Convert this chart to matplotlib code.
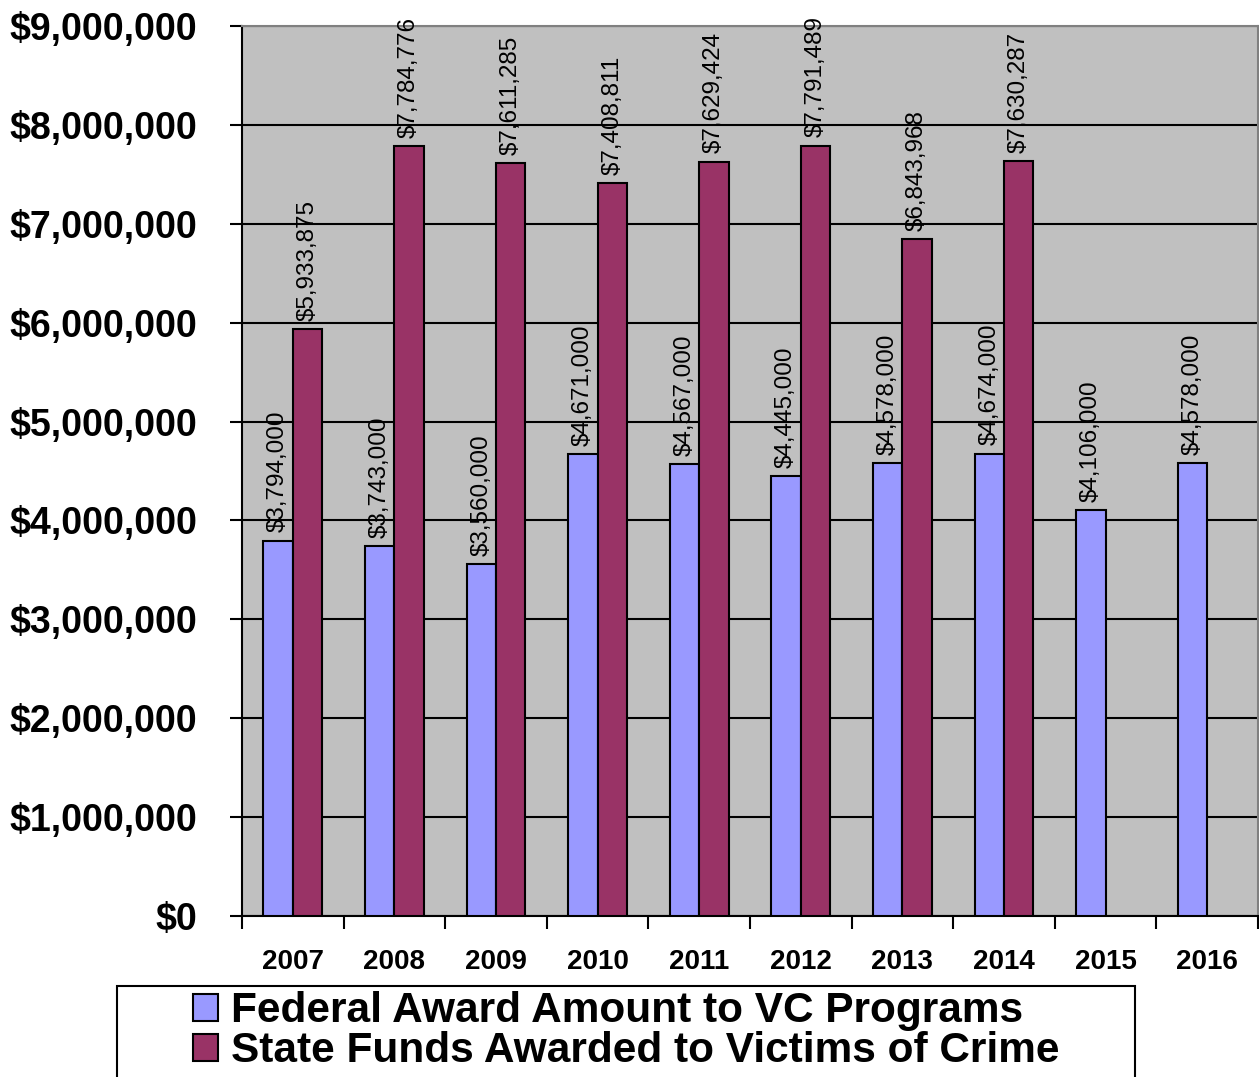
import numpy as np
import matplotlib.pyplot as plt
from matplotlib.patches import Rectangle
from matplotlib.ticker import FuncFormatter, FixedLocator

plt.rcParams['font.family'] = ['Liberation Sans', 'DejaVu Sans']

# Data
years = ["2007", "2008", "2009", "2010", "2011", "2012", "2013", "2014", "2015", "2016"]
federal = [3794000, 3743000, 3560000, 4671000, 4567000, 4445000, 4578000, 4674000, 4106000, 4578000]
state = [5933875, 7784776, 7611285, 7408811, 7629424, 7791489, 6843968, 7630287, None, None]
series_names = ["Federal Award Amount to VC Programs", "State Funds Awarded to Victims of Crime"]

fed_color = "#9999FF"
state_color = "#993366"

fig = plt.figure(figsize=(12.59, 10.77), dpi=100)
ax = fig.add_axes([242 / 1259, 1 - 916 / 1077, (1258 - 242) / 1259, (916 - 26) / 1077])
ax.set_facecolor("#C0C0C0")

x = np.arange(len(years))
w = 0.29

state_vals = np.array([np.nan if v is None else v for v in state], dtype=float)

b1 = ax.bar(x - w / 2, federal, w, color=fed_color, edgecolor="black", linewidth=1.5,
            zorder=3, label=series_names[0])
b2 = ax.bar(x + w / 2, np.nan_to_num(state_vals), w, color=state_color, edgecolor="black",
            linewidth=1.5, zorder=3, label=series_names[1])
for i, v in enumerate(state):
    if v is None:
        b2[i].set_visible(False)

# value labels
for xi, v in zip(x - w / 2, federal):
    ax.annotate("${:,}".format(v), (xi, v), xytext=(0, 6), textcoords="offset points",
                rotation=90, ha="center", va="bottom", fontsize=17.5, zorder=4)
for xi, v in zip(x + w / 2, state):
    if v is None:
        continue
    ax.annotate("${:,}".format(v), (xi, v), xytext=(0, 6), textcoords="offset points",
                rotation=90, ha="center", va="bottom", fontsize=17.5, zorder=4)

ax.set_ylim(0, 9000000)
ax.set_xlim(-0.5, len(years) - 0.5)
ax.set_yticks(np.arange(0, 9000001, 1000000))
ax.yaxis.set_major_formatter(FuncFormatter(lambda v, p: "${:,.0f}".format(v)))
ax.grid(axis="y", color="black", linewidth=1.5, zorder=1)
ax.set_axisbelow(True)

ax.set_xticks(x)
ax.set_xticklabels(years)
ax.xaxis.set_minor_locator(FixedLocator(np.arange(-0.5, len(years), 1.0)))
ax.tick_params(axis="x", which="major", length=0, pad=24, labelsize=20)
ax.tick_params(axis="x", which="minor", length=9, width=1.5, direction="out")
ax.tick_params(axis="y", length=9, width=1.5, pad=23, labelsize=27)
for lab in ax.get_xticklabels() + ax.get_yticklabels():
    lab.set_fontweight("bold")

ax.spines["left"].set_linewidth(1.5)
ax.spines["bottom"].set_linewidth(1.5)
ax.spines["top"].set_color("#808080")
ax.spines["top"].set_linewidth(1.5)
ax.spines["right"].set_color("#808080")
ax.spines["right"].set_linewidth(1.5)

# legend box (runs off the bottom of the figure)
fig.patches.append(Rectangle((117 / 1259, -0.05), (1135 - 117) / 1259, 1 - 986 / 1077 + 0.05,
                             transform=fig.transFigure, facecolor="white",
                             edgecolor="black", linewidth=1.5, zorder=0))
leg = fig.legend(handles=[b1, b2], loc="upper left",
                 bbox_to_anchor=(193 / 1259, 1 - 991 / 1077),
                 frameon=False, prop={"weight": "bold", "size": 30.5},
                 handlelength=0.6, handleheight=0.6, handletextpad=0.3,
                 labelspacing=0.0, borderpad=0, borderaxespad=0)

fig.savefig("out.png", dpi=100)
